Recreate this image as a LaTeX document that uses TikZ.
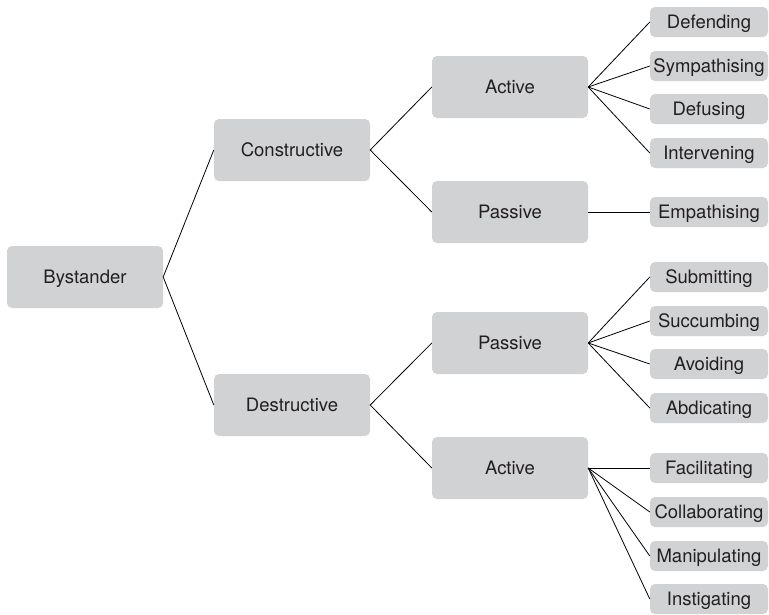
\documentclass[tikz,border=0pt]{standalone}
\usepackage{fontspec}
\setmainfont{TeX Gyre Heros}
\definecolor{boxgray}{RGB}{209,210,212}
\definecolor{txt}{RGB}{35,31,32}
\begin{document}
\begin{tikzpicture}[x=1pt,y=-1pt,
  base/.style={fill=boxgray, rounded corners=5pt, inner sep=0pt, text=txt, font=\fontsize{18.5}{21}\selectfont, anchor=center, text height=13.3pt, text depth=0pt},
  mainbox/.style={base, minimum width=156pt, minimum height=62pt},
  leafbox/.style={base, minimum width=118pt, minimum height=30pt},
  conn/.style={draw=black, line width=0.8pt}]
\useasboundingbox (0,0) rectangle (769,614);
\node[mainbox] (bys) at (85,277) {Bystander};
\node[mainbox] (con) at (292,150) {Constructive};
\node[mainbox] (des) at (292,405) {Destructive};
\node[mainbox] (ca) at (510,87) {Active};
\node[mainbox] (cp) at (510,212) {Passive};
\node[mainbox] (dp) at (510,343) {Passive};
\node[mainbox] (da) at (510,468) {Active};
\node[leafbox] (l1) at (709,22) {Defending};
\node[leafbox] (l2) at (709,66) {Sympathising};
\node[leafbox] (l3) at (709,109) {Defusing};
\node[leafbox] (l4) at (709,153) {Intervening};
\node[leafbox] (l5) at (709,212) {Empathising};
\node[leafbox] (l6) at (709,277) {Submitting};
\node[leafbox] (l7) at (709,321) {Succumbing};
\node[leafbox] (l8) at (709,364) {Avoiding};
\node[leafbox] (l9) at (709,408) {Abdicating};
\node[leafbox] (l10) at (709,468) {Facilitating};
\node[leafbox] (l11) at (709,512) {Collaborating};
\node[leafbox] (l12) at (709,556) {Manipulating};
\node[leafbox] (l13) at (709,599) {Instigating};
\draw[conn] (con.west) -- (bys.east) -- (des.west);
\draw[conn] (ca.west) -- (con.east) -- (cp.west);
\draw[conn] (dp.west) -- (des.east) -- (da.west);
\foreach \l in {l1,l2,l3,l4} \draw[conn] (ca.east) -- (\l.west);
\draw[conn] (cp.east) -- (l5.west);
\foreach \l in {l6,l7,l8,l9} \draw[conn] (dp.east) -- (\l.west);
\foreach \l in {l10,l11,l12,l13} \draw[conn] (da.east) -- (\l.west);
\end{tikzpicture}
\end{document}
